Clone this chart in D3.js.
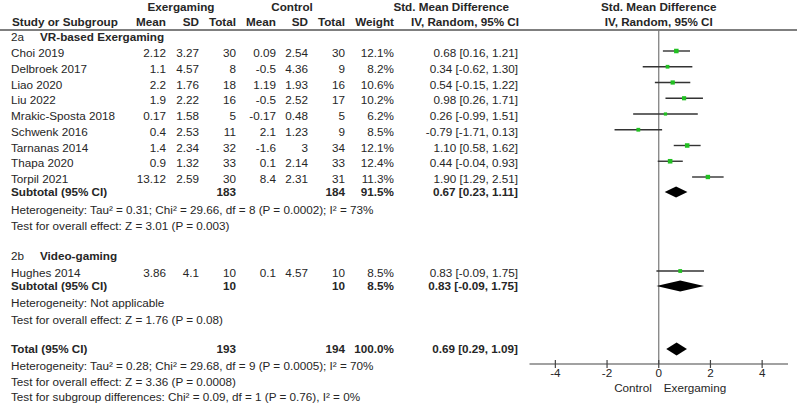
<!DOCTYPE html>
<html><head><meta charset="utf-8">
<script src="https://cdn.jsdelivr.net/npm/d3@7"></script>
<style>
body{margin:0;background:#fff;}
text{font-family:"Liberation Sans",Arial,sans-serif;font-size:11.7px;fill:#262626;}
.b{font-weight:bold;}
</style></head><body>
<svg id="c" width="800" height="404"></svg>
<script>
// ---- data ----
const studiesA = ["Choi 2019","Delbroek 2017","Liao 2020","Liu 2022","Mrakic-Sposta 2018","Schwenk 2016","Tarnanas 2014","Thapa 2020","Torpil 2021"];
const expMeanA = [2.12,1.1,2.2,1.9,0.17,0.4,1.4,0.9,13.12];
const expSDA   = [3.27,4.57,1.76,2.22,1.58,2.53,2.34,1.32,2.59];
const expNA    = [30,8,18,16,5,11,32,33,30];
const ctlMeanA = [0.09,-0.5,1.19,-0.5,-0.17,2.1,-1.6,0.1,8.4];
const ctlSDA   = [2.54,4.36,1.93,2.52,0.48,1.23,3,2.14,2.31];
const ctlNA    = [30,9,16,17,5,9,34,33,31];
const weightA  = [12.1,8.2,10.6,10.2,6.2,8.5,12.1,12.4,11.3];
const smdA     = [0.68,0.34,0.54,0.98,0.26,-0.79,1.10,0.44,1.90];
const loA      = [0.16,-0.62,-0.15,0.26,-0.99,-1.71,0.58,-0.04,1.29];
const hiA      = [1.21,1.30,1.22,1.71,1.51,0.13,1.62,0.93,2.51];

const studiesB = ["Hughes 2014"];
const expMeanB = [3.86], expSDB = [4.1], expNB = [10];
const ctlMeanB = [0.1], ctlSDB = [4.57], ctlNB = [10];
const weightB  = [8.5], smdB = [0.83], loB = [-0.09], hiB = [1.75];

// subtotals: [expN, ctlN, weight, smd, lo, hi]
const subA  = [183,184,91.5,0.67,0.23,1.11];
const subB  = [10,10,8.5,0.83,-0.09,1.75];
const total = [193,194,100.0,0.69,0.29,1.09];

const hetA = "Heterogeneity: Tau\u00B2 = 0.31; Chi\u00B2 = 29.66, df = 8 (P = 0.0002); I\u00B2 = 73%";
const effA = "Test for overall effect: Z = 3.01 (P = 0.003)";
const hetB = "Heterogeneity: Not applicable";
const effB = "Test for overall effect: Z = 1.76 (P = 0.08)";
const hetT = "Heterogeneity: Tau\u00B2 = 0.28; Chi\u00B2 = 29.68, df = 9 (P = 0.0005); I\u00B2 = 70%";
const effT = "Test for overall effect: Z = 3.36 (P = 0.0008)";
const subDiff = "Test for subgroup differences: Chi\u00B2 = 0.09, df = 1 (P = 0.76), I\u00B2 = 0%";
const ticks = [-4,-2,0,2,4];

// ---- layout ----
const svg = d3.select("#c");
const x = d3.scaleLinear().domain([-5,5]).range([529.5,788]);
const yA = d3.scaleLinear().domain([0,8]).range([53,179]);
const col = {name:11, em:166, es:199, en:236, cm:276, cs:308, cn:345, w:394, ci:518};
const fmtCI = (m,l,h)=>`${m.toFixed(2)} [${l.toFixed(2)}, ${h.toFixed(2)}]`;

function txt(xp, yp, s, anchor, bold){
  svg.append("text").attr("x",xp).attr("y",yp).attr("dy","0.36em")
    .attr("text-anchor",anchor||"start").attr("class",bold?"b":null).text(s);
}

// headers
txt(181,7,"Exergaming","middle",true);
txt(292,7,"Control","middle",true);
txt(509,7,"Std. Mean Difference","end",true);
txt(x(0),7,"Std. Mean Difference","middle",true);
txt(12,22,"Study or Subgroup","start",true);
[["Mean",col.em],["SD",col.es],["Total",col.en],["Mean",col.cm],["SD",col.cs],["Total",col.cn],["Weight",col.w]]
  .forEach(d=>txt(d[1],22,d[0],"end",true));
txt(519,22,"IV, Random, 95% CI","end",true);
txt(x(0),22,"IV, Random, 95% CI","middle",true);
svg.append("line").attr("x1",0).attr("x2",797).attr("y1",30).attr("y2",30)
  .attr("stroke","#555").attr("stroke-width",1.5);

// zero line
svg.append("line").attr("x1",x(0)).attr("x2",x(0)).attr("y1",30).attr("y2",364)
  .attr("stroke","#777").attr("stroke-width",1.2);

function studyRow(yp, name, em, es, en, cm, cs, cn, w, m, l, h){
  txt(col.name,yp,name);
  txt(col.em,yp,String(em),"end");
  txt(col.es,yp,String(es),"end");
  txt(col.en,yp,String(en),"end");
  txt(col.cm,yp,String(cm),"end");
  txt(col.cs,yp,String(cs),"end");
  txt(col.cn,yp,String(cn),"end");
  txt(col.w,yp,w.toFixed(1)+"%","end");
  txt(col.ci,yp,fmtCI(m,l,h),"end");
  const ly = yp-2;
  svg.append("line").attr("x1",x(l)).attr("x2",x(h)).attr("y1",ly).attr("y2",ly)
    .attr("stroke","#333").attr("stroke-width",1.4);
  const s = 1.3*Math.sqrt(w);
  svg.append("rect").attr("x",x(m)-s/2).attr("y",ly-s/2).attr("width",s).attr("height",s)
    .attr("fill","#22c022");
}
function subRow(yp, label, d, hh){
  txt(col.name,yp,label,"start",true);
  txt(col.en,yp,String(d[0]),"end",true);
  txt(col.cn,yp,String(d[1]),"end",true);
  txt(col.w,yp,d[2].toFixed(1)+"%","end",true);
  txt(col.ci,yp,fmtCI(d[3],d[4],d[5]),"end",true);
  const pts = [[x(d[4]),yp],[x(d[3]),yp-hh],[x(d[5]),yp],[x(d[3]),yp+hh]];
  svg.append("path").attr("d",d3.line()(pts)+"Z").attr("fill","#000");
}

// group A
txt(11,37,"2a","start",false);
txt(40,37,"VR-based Exergaming","start",true);
studiesA.forEach((s,i)=>studyRow(yA(i),s,expMeanA[i],expSDA[i],expNA[i],ctlMeanA[i],ctlSDA[i],ctlNA[i],weightA[i],smdA[i],loA[i],hiA[i]));
subRow(192,"Subtotal (95% CI)",subA,5.5);
txt(11,210,hetA);
txt(11,226,effA);

// group B
txt(11,256,"2b","start",false);
txt(40,256,"Video-gaming","start",true);
studiesB.forEach((s,i)=>studyRow(273,s,expMeanB[i],expSDB[i],expNB[i],ctlMeanB[i],ctlSDB[i],ctlNB[i],weightB[i],smdB[i],loB[i],hiB[i]));
subRow(286,"Subtotal (95% CI)",subB,5.5);
txt(11,303,hetB);
txt(11,320,effB);

// total
subRow(349,"Total (95% CI)",total,6.5);
txt(11,366,hetT);
txt(11,382,effT);
txt(11,397,subDiff);

// axis
const ay = 364;
svg.append("line").attr("x1",x(-5)).attr("x2",x(5)).attr("y1",ay).attr("y2",ay)
  .attr("stroke","#444").attr("stroke-width",1.2);
ticks.forEach(t=>{
  svg.append("line").attr("x1",x(t)).attr("x2",x(t)).attr("y1",ay-4).attr("y2",ay+4)
    .attr("stroke","#444").attr("stroke-width",1.2);
  txt(x(t),373,String(t),"middle");
});
txt(633,388,"Control","middle");
txt(695,388,"Exergaming","middle");
</script></body></html>
